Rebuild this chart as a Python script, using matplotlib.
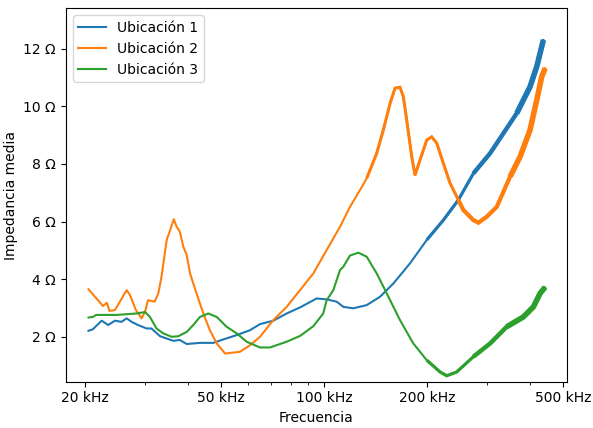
import matplotlib
matplotlib.use("Agg")
import matplotlib.pyplot as plt
from matplotlib.ticker import EngFormatter, FixedLocator, LogLocator, NullFormatter

# Frequencies in kHz, impedance in ohm
freq1 = [20.5, 21.1, 22.4, 23.4, 24.5, 25.6, 26.5, 27.4, 28.6, 30.3, 31.3, 33.2,
         36.3, 37.9, 39.7, 43.4, 47.5, 50.8, 55.6, 60.8, 65.0, 71.1, 77.8, 85.1,
         95.2, 101.8, 108.9, 113.9, 121.8, 133.3, 145.8, 159.5, 178.4, 199.7,
         223.3, 247.0, 273.3, 305.9, 334.4, 366.0, 400.2, 418.7, 437.7]
imp1 = [2.21, 2.26, 2.56, 2.41, 2.56, 2.52, 2.64, 2.52, 2.41, 2.29, 2.29, 2.02,
        1.86, 1.89, 1.75, 1.79, 1.79, 1.91, 2.06, 2.23, 2.44, 2.56, 2.81, 3.02,
        3.33, 3.30, 3.22, 3.04, 2.99, 3.10, 3.39, 3.85, 4.55, 5.36,
        6.05, 6.75, 7.67, 8.37, 9.06, 9.76, 10.68, 11.38, 12.30]

freq2 = [20.5, 22.6, 23.2, 23.6, 24.5, 26.5, 27.1, 28.2, 29.3, 30.0, 30.6, 32.0,
         32.8, 33.5, 34.7, 35.5, 36.4, 37.1, 37.9, 38.8, 39.7, 40.6, 42.4, 44.4,
         46.4, 48.6, 51.4, 56.8, 60.8, 65.0, 71.1, 77.8, 85.1, 93.1, 101.8, 111.4,
         119.1, 127.4, 133.3, 142.6, 149.1, 156.0, 161.3, 166.8, 170.6, 174.5,
         180.5, 184.5, 190.9, 199.7, 206.5, 213.6, 223.3, 233.6, 247.0, 255.5,
         273.3, 282.7, 299.1, 319.9, 349.9, 374.2, 400.2, 418.7, 433.0, 442.8]
imp2 = [3.65, 3.07, 3.18, 2.90, 2.93, 3.62, 3.45, 2.93, 2.64, 2.87, 3.27, 3.22,
        3.51, 4.08, 5.36, 5.70, 6.08, 5.82, 5.65, 5.13, 4.84, 4.20, 3.51, 2.81,
        2.23, 1.77, 1.42, 1.48, 1.71, 2.00, 2.58, 3.04, 3.62, 4.20, 5.01, 5.82,
        6.51, 7.09, 7.50, 8.37, 9.18, 10.10, 10.63, 10.66, 10.33, 9.52,
        8.25, 7.61, 8.14, 8.83, 8.94, 8.72, 8.02, 7.33, 6.75, 6.40,
        6.05, 5.96, 6.17, 6.51, 7.56, 8.25, 9.18, 10.22, 11.03, 11.32]

freq3 = [20.5, 21.1, 21.6, 24.8, 28.3, 30.0, 31.0, 32.4, 33.9, 35.9, 37.5, 39.7,
         41.5, 43.4, 45.9, 48.6, 51.9, 55.6, 59.4, 65.0, 69.5, 77.8, 85.1, 93.1,
         99.5, 101.8, 106.5, 111.4, 113.9, 119.1, 126.0, 133.3, 142.6, 152.5,
         166.8, 182.4, 199.7, 218.4, 228.5, 244.3, 273.3, 305.9, 342.1, 382.5,
         409.3, 428.2, 442.8]
imp3 = [2.67, 2.69, 2.76, 2.76, 2.81, 2.86, 2.69, 2.29, 2.12, 2.00, 2.02, 2.17,
        2.41, 2.69, 2.81, 2.69, 2.35, 2.12, 1.83, 1.63, 1.63, 1.83, 2.03, 2.37,
        2.81, 3.27, 3.62, 4.32, 4.43, 4.82, 4.92, 4.78, 4.20, 3.51,
        2.58, 1.77, 1.19, 0.78, 0.65, 0.78, 1.31, 1.77, 2.35, 2.69,
        3.04, 3.51, 3.72]

labels = ["Ubicación 1", "Ubicación 2", "Ubicación 3"]
colors = ["#1f77b4", "#ff7f0e", "#2ca02c"]
major_ticks = [20e3, 50e3, 100e3, 200e3, 500e3]

# Measurement noise grows with frequency: the trace looks thicker there
noise_bands = [
    [(220, 2.3), (300, 3.2), (380, 4.0)],
    [(140, 2.2), (250, 3.0), (350, 4.0)],
    [(200, 2.3), (290, 3.2), (380, 4.0)],
]

fig = plt.figure(figsize=(5.93, 4.28), dpi=100)
ax = fig.add_axes([0.111, 0.108, 0.8446, 0.8726])

for f, z, lab, col, bands in zip([freq1, freq2, freq3], [imp1, imp2, imp3],
                                 labels, colors, noise_bands):
    fx = [v * 1e3 for v in f]
    ax.plot(fx, z, label=lab, color=col, linewidth=1.5)
    for thr, lw in bands:
        idx = [i for i, v in enumerate(f) if v >= thr]
        start = max(idx[0] - 1, 0)
        ax.plot(fx[start:], z[start:], color=col, linewidth=lw,
                solid_capstyle="butt", solid_joinstyle="miter")

ax.set_xscale("log")
ax.set_xlim(17.6e3, 512e3)
ax.set_ylim(0.44, 13.40)
ax.xaxis.set_major_locator(FixedLocator(major_ticks))
ax.xaxis.set_major_formatter(EngFormatter(unit="Hz"))
ax.xaxis.set_minor_locator(LogLocator(base=10, subs=range(2, 10)))
ax.xaxis.set_minor_formatter(NullFormatter())
ax.yaxis.set_major_formatter(EngFormatter(unit="Ω"))
ax.set_yticks([2, 4, 6, 8, 10, 12])

ax.set_xlabel("Frecuencia")
ax.set_ylabel("Impedancia media")
ax.legend(loc="upper left")

fig.savefig("out.png", dpi=100)
